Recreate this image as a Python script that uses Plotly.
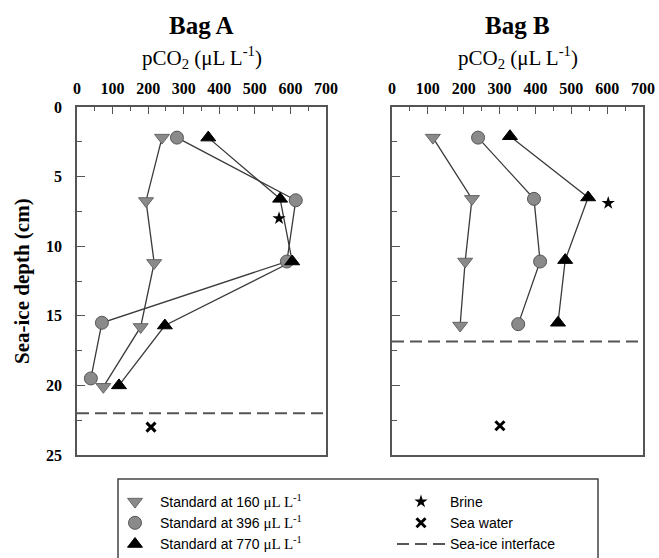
import plotly.graph_objects as go

# ---------------- data ----------------
a160_pco2 = [239, 194, 217, 179, 74]
a160_depth = [2.2, 6.75, 11.2, 15.8, 20.1]
a396_pco2 = [281, 615, 590, 70, 39]
a396_depth = [2.2, 6.7, 11.1, 15.5, 19.5]
a770_pco2 = [369, 571, 605, 247, 118]
a770_depth = [2.2, 6.6, 11.1, 15.7, 20.0]
a_brine_pco2 = [568]
a_brine_depth = [8.0]
a_sea_pco2 = [208]
a_sea_depth = [23.0]
a_interface = 22.0

b160_pco2 = [114, 223, 204, 190]
b160_depth = [2.2, 6.6, 11.1, 15.7]
b396_pco2 = [240, 396, 413, 352]
b396_depth = [2.2, 6.6, 11.1, 15.6]
b770_pco2 = [329, 547, 483, 463]
b770_depth = [2.1, 6.5, 11.0, 15.5]
b_brine_pco2 = [603]
b_brine_depth = [6.9]
b_sea_pco2 = [301]
b_sea_depth = [22.9]
b_interface = 16.85

x_range = [0, 700]
y_range = [25, 0]
x_ticks = [0, 100, 200, 300, 400, 500, 600, 700]
y_ticks = [0, 5, 10, 15, 20, 25]

W, H = 659, 558
SERIF = "Liberation Serif"
SANS = "Liberation Sans"
LINE_C = "#3a3a3a"
GRAY = "#8a8a8a"
AX_C = "#555555"

fig = go.Figure()

unit = '<span style="font-family:Liberation Serif;font-size:15px">μL L<sup>-1</sup></span>'
series = [
    ("Standard at 160 " + unit, "triangle-down", GRAY, "#666666"),
    ("Standard at 396 " + unit, "circle", GRAY, "#555555"),
    ("Standard at 770 " + unit, "triangle-up", "black", "black"),
]
bag_data = [
    ("x", "y", [(a160_pco2, a160_depth), (a396_pco2, a396_depth), (a770_pco2, a770_depth)],
     (a_brine_pco2, a_brine_depth), (a_sea_pco2, a_sea_depth), a_interface),
    ("x2", "y2", [(b160_pco2, b160_depth), (b396_pco2, b396_depth), (b770_pco2, b770_depth)],
     (b_brine_pco2, b_brine_depth), (b_sea_pco2, b_sea_depth), b_interface),
]

for bi, (xa, ya, sers, brine, sea, iface) in enumerate(bag_data):
    # interface line
    fig.add_trace(go.Scatter(
        x=x_range, y=[iface, iface], mode="lines", xaxis=xa, yaxis=ya,
        line=dict(color="#555555", width=2, dash="12px,6px"),
        name="Sea-ice interface", legend="legend2", legendrank=3,
        showlegend=(bi == 0)))
    # connecting lines
    for (px, dp) in sers:
        fig.add_trace(go.Scatter(
            x=px, y=dp, mode="lines", xaxis=xa, yaxis=ya,
            line=dict(color=LINE_C, width=1.3), showlegend=False))
    # markers
    for si, (px, dp) in enumerate(sers):
        name, sym, fc, lc = series[si]
        fig.add_trace(go.Scatter(
            x=px, y=dp, mode="markers", xaxis=xa, yaxis=ya, name=name,
            marker=dict(symbol=sym, size=13, color=fc, line=dict(color=lc, width=1)),
            legend="legend", legendrank=si + 1, showlegend=(bi == 0)))
    fig.add_trace(go.Scatter(
        x=brine[0], y=brine[1], mode="markers", xaxis=xa, yaxis=ya, name="Brine",
        marker=dict(symbol="star", size=10, color="black", line=dict(width=0)),
        legend="legend2", legendrank=1, showlegend=(bi == 0)))
    fig.add_trace(go.Scatter(
        x=sea[0], y=sea[1], mode="markers", xaxis=xa, yaxis=ya, name="Sea water",
        marker=dict(symbol="x-thin", size=9, color="black", line=dict(color="black", width=3)),
        legend="legend2", legendrank=2, showlegend=(bi == 0)))

# geometry in pixels
ax_a = (77, 326)
ax_b = (392, 643)
top_px, bot_px = 107, 455
ydom = [1 - bot_px / H, 1 - top_px / H]

xcommon = dict(
    range=x_range, side="top", tickmode="array", tickvals=x_ticks,
    ticks="inside", ticklen=7, tickwidth=1.2, tickcolor=AX_C,
    minor=dict(dtick=50, ticks="inside", ticklen=4, tickwidth=1.2, tickcolor=AX_C),
    showline=True, linecolor=AX_C, linewidth=1.5, mirror=True,
    showgrid=False, zeroline=False, automargin=False,
    tickfont=dict(family=SERIF, size=16, color="black", weight="bold"),
    ticklabelstandoff=5, fixedrange=True,
)
ycommon = dict(
    range=y_range, tickmode="array", tickvals=y_ticks,
    ticks="inside", ticklen=8, tickwidth=1.2, tickcolor=AX_C,
    minor=dict(dtick=2.5, ticks="inside", ticklen=5, tickwidth=1.2, tickcolor=AX_C),
    showline=True, linecolor=AX_C, linewidth=1.5, mirror=True,
    showgrid=False, zeroline=False, domain=ydom, automargin=False,
    tickfont=dict(family=SERIF, size=16, color="black", weight="bold"),
    ticklabelstandoff=10, fixedrange=True,
)

fig.update_layout(
    width=W, height=H, margin=dict(l=0, r=0, t=0, b=0, autoexpand=False),
    paper_bgcolor="white", plot_bgcolor="white",
    xaxis=dict(xcommon, domain=[ax_a[0] / W, ax_a[1] / W], anchor="y"),
    yaxis=dict(ycommon, anchor="x"),
    xaxis2=dict(xcommon, domain=[ax_b[0] / W, ax_b[1] / W], anchor="y2"),
    yaxis2=dict(ycommon, anchor="x2", showticklabels=False),
    legend=dict(x=110 / W, y=1 - 486 / H, xanchor="left", yanchor="top",
                bgcolor="rgba(0,0,0,0)", borderwidth=0, tracegroupgap=0,
                font=dict(family=SANS, size=14, color="black"), itemwidth=40,
                traceorder="normal"),
    legend2=dict(x=392 / W, y=1 - 486 / H, xanchor="left", yanchor="top",
                 bgcolor="rgba(0,0,0,0)", borderwidth=0, tracegroupgap=0,
                 font=dict(family=SANS, size=14, color="black"), itemwidth=48,
                 traceorder="normal"),
    showlegend=True,
)

# legend frame
fig.add_shape(type="rect", xref="paper", yref="paper",
              x0=118 / W, x1=598 / W, y0=-0.02, y1=1 - 479 / H,
              line=dict(color="#444444", width=1.5), fillcolor="rgba(0,0,0,0)")

# titles
for cx, label in [((ax_a[0] + ax_a[1]) / 2, "Bag A"), ((ax_b[0] + ax_b[1]) / 2, "Bag B")]:
    fig.add_annotation(x=cx / W, y=1 - 25 / H, xref="paper", yref="paper",
                       text="<b>" + label + "</b>", showarrow=False,
                       font=dict(family=SERIF, size=25, color="black"),
                       xanchor="center", yanchor="middle")
    fig.add_annotation(x=cx / W, y=1 - 58 / H, xref="paper", yref="paper",
                       text="pCO<sub>2</sub> (μL L<sup>-1</sup>)", showarrow=False,
                       font=dict(family=SERIF, size=21, color="black"),
                       xanchor="center", yanchor="middle")

fig.add_annotation(x=22 / W, y=1 - 281 / H, xref="paper", yref="paper",
                   text="<b>Sea-ice depth (cm)</b>", showarrow=False, textangle=-90,
                   font=dict(family=SERIF, size=21, color="black"),
                   xanchor="center", yanchor="middle")

fig.write_html("out.html", config={"displayModeBar": False},
               post_script="document.body.style.margin='0px';document.body.style.overflow='hidden';")
